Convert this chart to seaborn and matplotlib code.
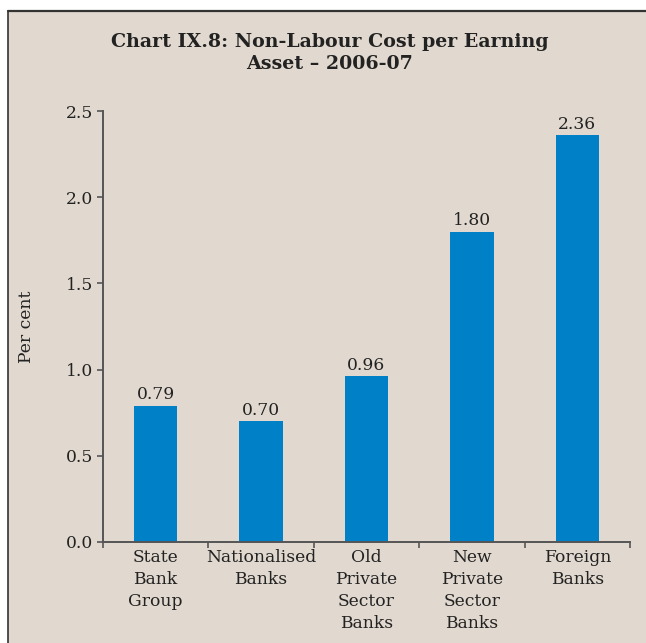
import matplotlib
matplotlib.use("Agg")
import matplotlib.pyplot as plt
import seaborn as sns
import pandas as pd
from matplotlib.lines import Line2D
from matplotlib.patches import Rectangle

categories = ["State\nBank\nGroup", "Nationalised\nBanks", "Old\nPrivate\nSector\nBanks",
              "New\nPrivate\nSector\nBanks", "Foreign\nBanks"]
values = [0.79, 0.70, 0.96, 1.80, 2.36]
yticks = [0.0, 0.5, 1.0, 1.5, 2.0, 2.5]

sns.set_theme(style="white")
plt.rcParams['font.family'] = ['DejaVu Serif']

W, H = 646, 643
bg = "#e1d9cf"
fs = 12.3
fig = plt.figure(figsize=(W / 100, H / 100), dpi=100, facecolor="white")
# beige panel with border
fig.add_artist(Rectangle((8 / W, 0), 1 - 8 / W, 1 - 11 / H, transform=fig.transFigure,
                         facecolor=bg, edgecolor="none", zorder=0))
fig.add_artist(Line2D([8 / W, 1], [1 - 11 / H, 1 - 11 / H], transform=fig.transFigure,
                      color="#333333", lw=1.6))
fig.add_artist(Line2D([8 / W, 8 / W], [0, 1 - 11 / H], transform=fig.transFigure,
                      color="#333333", lw=1.2))

ax = fig.add_axes([103 / W, 1 - 542 / H, (630 - 103) / W, (542 - 111) / H])
ax.set_facecolor("none")

df = pd.DataFrame({"cat": categories, "val": values})
sns.barplot(data=df, x="cat", y="val", ax=ax, color="#0080c6", width=0.41,
            saturation=1, edgecolor="none")

ax.set_xlim(-0.5, 4.5)
ax.set_ylim(0, 2.5)
ax.set_yticks(yticks)
ax.set_yticklabels([f"{v:.1f}" for v in yticks], fontsize=fs, color="#222222")

# category labels centred under bars, ticks at boundaries
ax.set_xticks([i - 0.5 for i in range(len(categories) + 1)])
ax.set_xticklabels([])
for i, c in enumerate(categories):
    ax.text(i, -0.04, c, ha="center", va="top", fontsize=fs, color="#222222",
            linespacing=1.38, transform=ax.transData)

ax.tick_params(axis="both", which="major", direction="out", length=4, width=1.2,
               color="#555555", bottom=True, left=True, pad=2)
ax.tick_params(axis="y", pad=3)
for s in ["top", "right"]:
    ax.spines[s].set_visible(False)
for s in ["left", "bottom"]:
    ax.spines[s].set_color("#555555")
    ax.spines[s].set_linewidth(1.4)

for i, v in enumerate(values):
    ax.text(i, v + 0.015, f"{v:.2f}", ha="center", va="bottom", fontsize=fs,
            color="#222222")

ax.set_xlabel("")
ax.set_ylabel("Per cent", fontsize=fs, color="#222222", labelpad=0)
ax.yaxis.set_label_coords(-(103 - 35) / (630 - 103), 0.5)

fig.text(330 / W, 1 - 53 / H, "Chart IX.8: Non-Labour Cost per Earning\nAsset \u2013 2006-07",
         ha="center", va="center", fontsize=13.7, fontweight="bold", color="#222222",
         linespacing=1.35)

fig.savefig("out.png", dpi=100, facecolor="white")
